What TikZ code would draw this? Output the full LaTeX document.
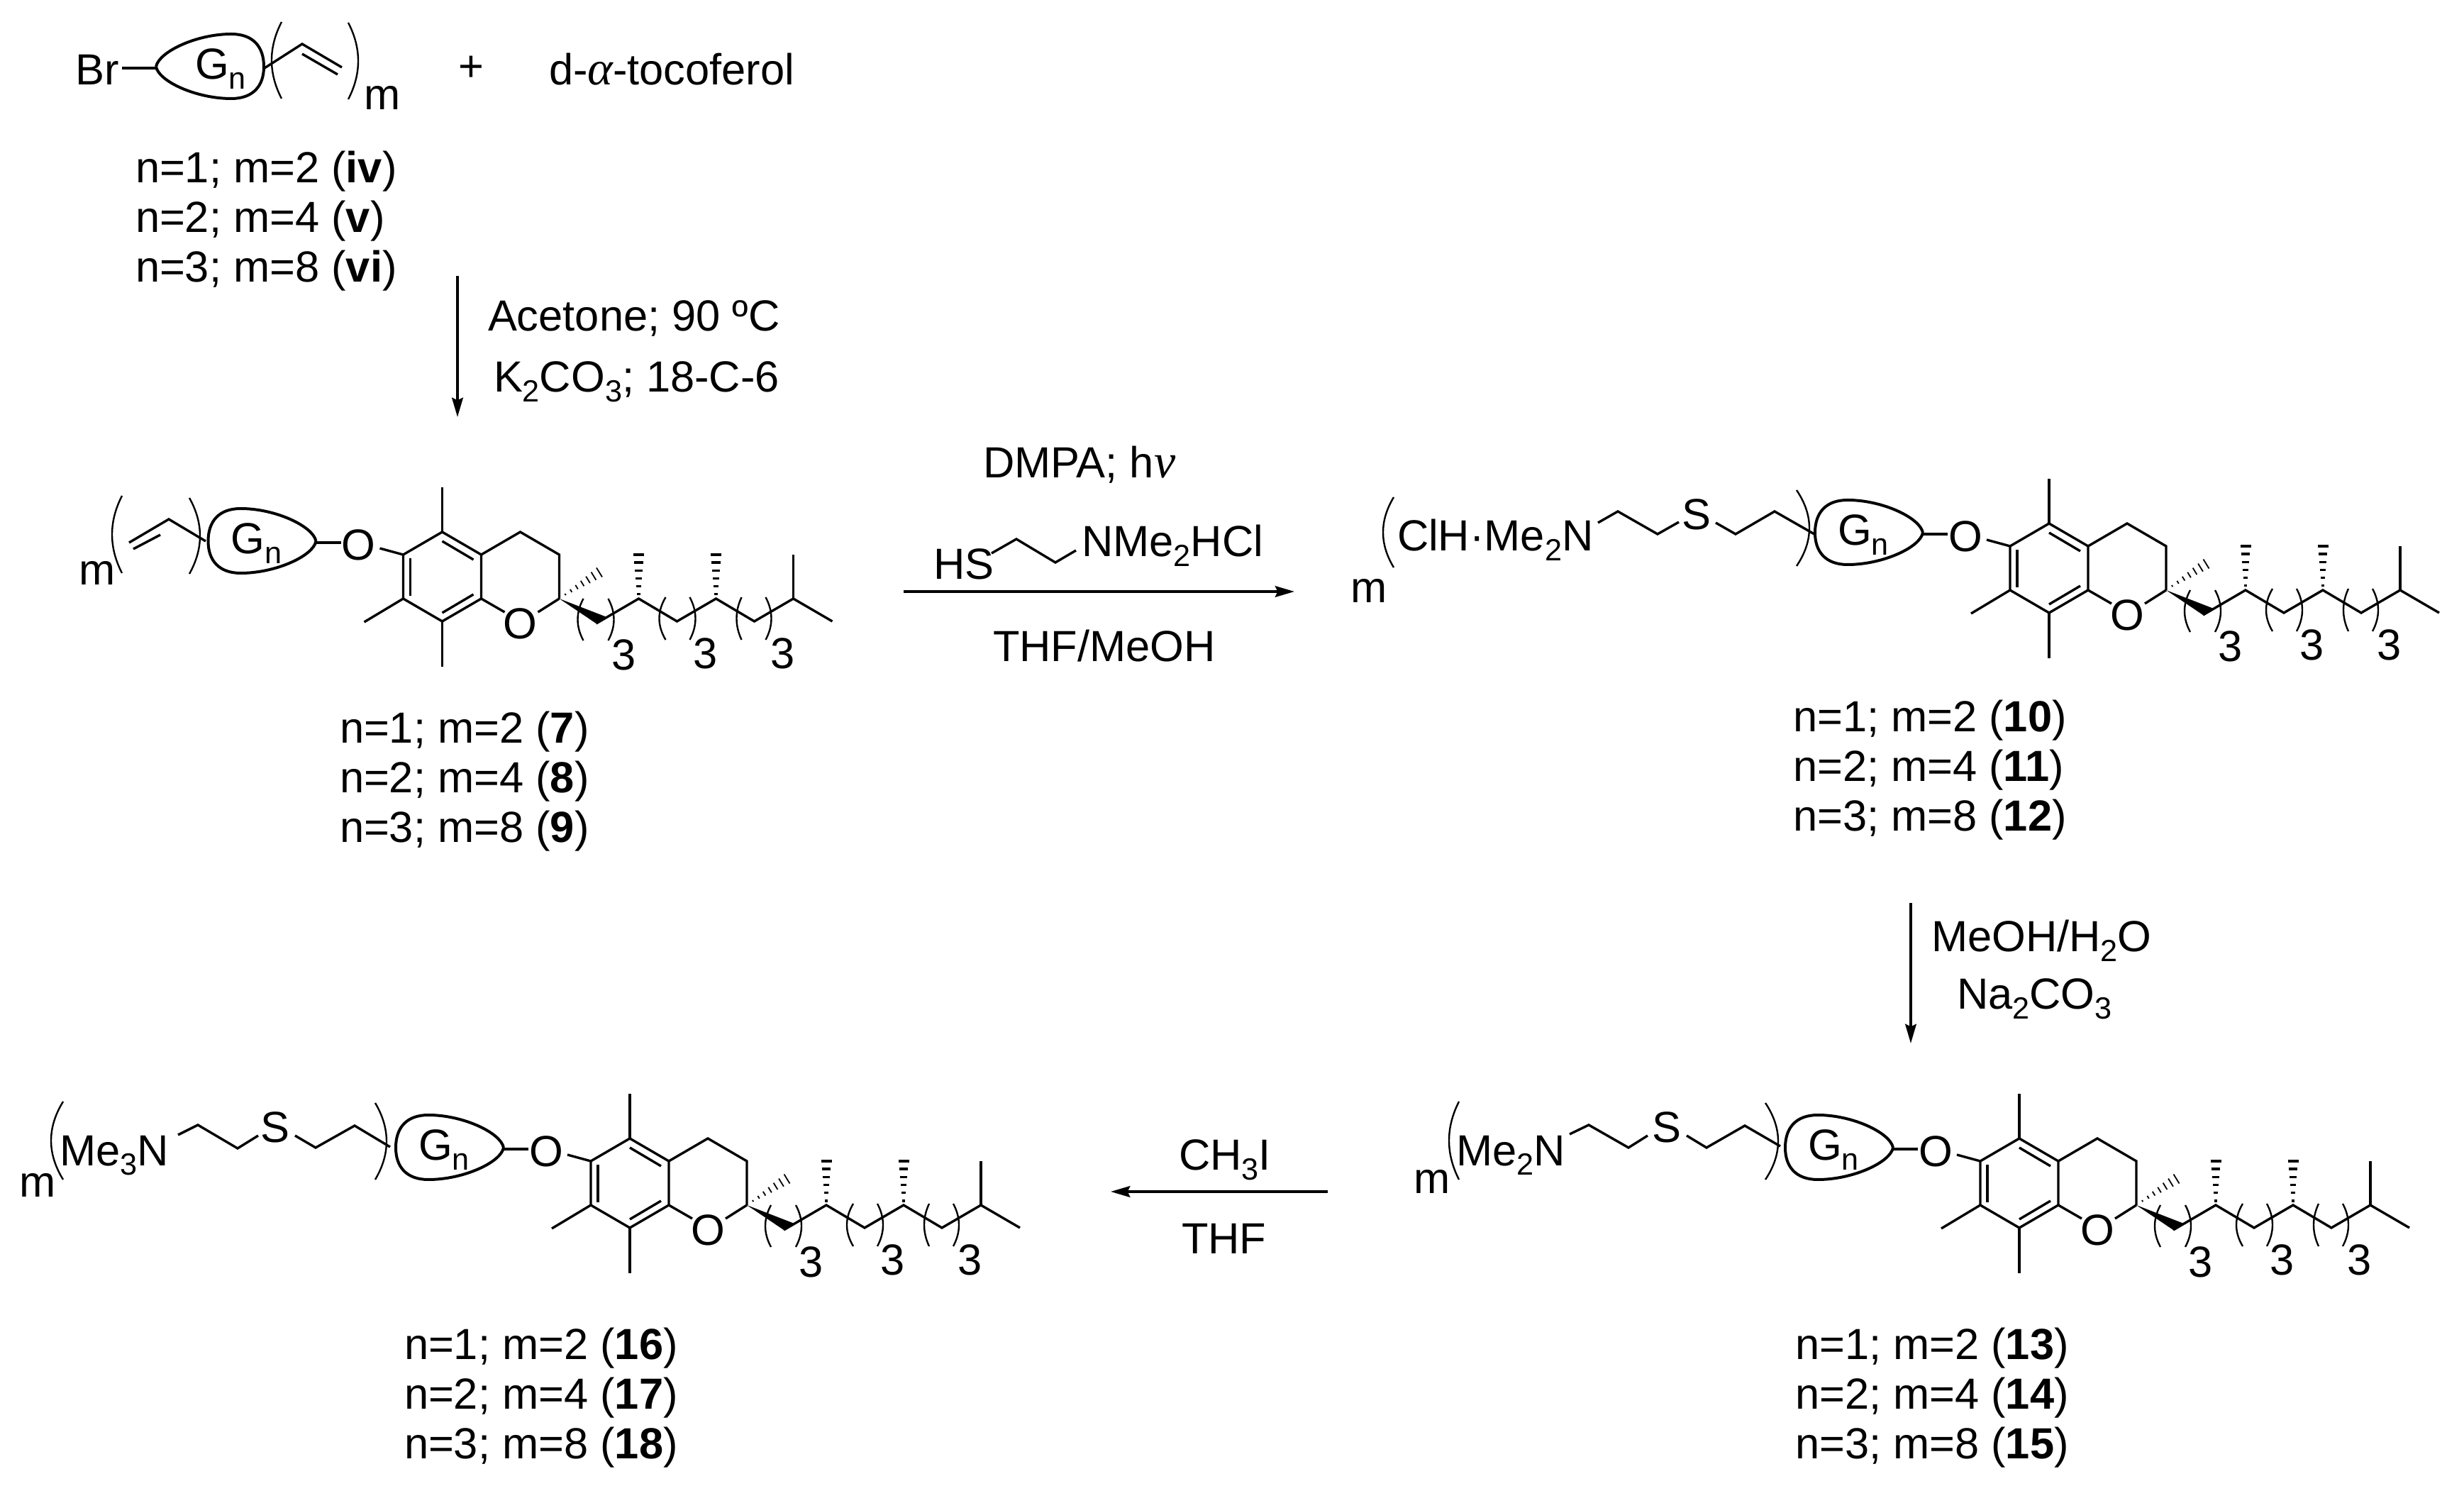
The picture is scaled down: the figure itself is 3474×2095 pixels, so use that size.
\documentclass[tikz,border=0pt]{standalone}
\usepackage{fontspec}
\setmainfont{Liberation Sans}
\newfontfamily\grk{Liberation Serif}
\usetikzlibrary{arrows.meta}
\newcommand\sbs[1]{\raisebox{-3.3pt}{\fontsize{10.8pt}{10.8pt}\selectfont #1}}
\newcommand\grl[1]{{\grk\itshape\fontsize{17pt}{17pt}\selectfont #1}}
\newcommand\brk[4]{%
  \pgfmathsetmacro\brkcx{#1+1.333*(#3-#1)}%
  \pgfmathsetmacro\brkya{#2+(#4-#2)/3}%
  \pgfmathsetmacro\brkyb{#2+2*(#4-#2)/3}%
  \draw[brkline] (#1,#2) .. controls (\brkcx,\brkya) and (\brkcx,\brkyb) .. (#1,#4);}
% the dendron blob, apex to the right
\newcommand\blobpath{(-178,13) .. controls (-182,-8) and (-235,-33) .. (-284,-33) .. controls (-315,-33) and (-330,-15) .. (-330,13) .. controls (-330,40) and (-315,58) .. (-284,58) .. controls (-235,58) and (-182,34) .. (-178,13)}
% the tocopherol unit, origin at the top aromatic carbon
\newcommand\toco[3]{%
\begin{scope}[shift={(#2,#3)}]
  \draw[bond] (0,0) -- (-55,32) -- (-55,94) -- (0,126) -- (55,94) -- (55,32) -- cycle;
  \draw[bond] (-45,37) -- (-45,90);
  \draw[bond] (0,13) -- (44,39);
  \draw[bond] (44,88) -- (0,114);
  \draw[bond] (55,32) -- (110,0) -- (165,32) -- (165,94);
  \draw[bond] (55,94) -- (88,113);
  \draw[bond] (135,113) -- (165,94);
  \draw[bond] (0,0) -- (0,-63);
  \draw[bond] (0,126) -- (0,190);
  \draw[bond] (-55,94) -- (-110,127);
  \draw[bond] (-88,23) -- (-55,32);
  \node (#1O1) at (-118,18) {O};
  \node (#1O2) at (110,129) {O};
  \draw[blob] \blobpath;
  \draw[blob] (-178,15) -- (-143,15);
  \node[lbl] (#1G) at (-298,31) {G\sbs{n}};
  \fill (165,94) -- (217,129) -- (232,120) -- cycle;
  \draw[bond] (217,129) -- (277,94) -- (331,126) -- (386,94) -- (440,126) -- (495,94) -- (550,126);
  \draw[bond] (495,94) -- (495,32);
  \foreach \t in {0.16,0.30,0.44,0.58,0.72,0.86,1} {
    \draw[line width=0.45pt] ({165+57*\t-4*\t-0.5},{94-37*\t-6.5*\t}) -- ({165+57*\t+4*\t-0.5},{94-37*\t+6.5*\t});
  }
  \foreach \xx in {277,386} {
    \foreach \t in {0.1,0.28,0.46,0.64,0.82,1} {
      \draw[line width=0.85pt] ({\xx-1.5-6*\t},{94-62*\t}) -- ({\xx+1.5+6*\t},{94-62*\t});
    }
  }
  \brk{199}{94}{191}{153}
  \brk{234}{94}{242}{153}
  \brk{315}{92}{306}{152}
  \brk{349}{92}{357}{152}
  \brk{422}{92}{415}{152}
  \brk{456}{92}{464}{152}
  \node[anchor=base] (#1r1) at (256,195) {3};
  \node[anchor=base] (#1r2) at (371,193) {3};
  \node[anchor=base] (#1r3) at (480,193) {3};
\end{scope}}
\newcommand\threelines[6]{%
  \node[lbl] (#1a) at (#2,#3) {n=1; m=2 (\textbf{#4})};
  \node[lbl] (#1b) at (#2,#3+70) {n=2; m=4 (\textbf{#5})};
  \node[lbl] (#1c) at (#2,#3+140) {n=3; m=8 (\textbf{#6})};}
\begin{document}
\begin{tikzpicture}[x=0.25pt,y=-0.25pt,
  every node/.style={inner sep=0pt,outer sep=0pt,font=\fontsize{15.35pt}{15.35pt}\selectfont},
  lbl/.style={anchor=base west},
  mid/.style={anchor=base},
  bond/.style={line width=0.85pt,line join=miter},
  blob/.style={line width=1pt},
  brkline/.style={line width=0.6pt},
  rxn/.style={line width=0.95pt,-{Stealth[length=6.8pt,width=3.9pt,inset=0.9pt]}}]
\useasboundingbox (0,0) rectangle (3474,2095);
% --- top row ---
\node[lbl] (br) at (107,120) {Br};
\draw[bond] (172,96) -- (220,96);
\draw[blob] (220,94) .. controls (224,73) and (277,48) .. (326,48) .. controls (357,48) and (372,66) .. (372,94) .. controls (372,121) and (357,139) .. (326,139) .. controls (277,139) and (224,115) .. (220,94);
\node[lbl] (gtop) at (275,112) {G\sbs{n}};
\draw[bond] (373,96) -- (426,62) -- (482,95);
\draw[bond] (426,76) -- (476,105);
\brk{397}{31}{383}{139}
\brk{491}{32}{505}{140}
\node[mid] (mtop) at (539,155) {m};
\node (plus) at (664,97) {+};
\node[lbl] (toc) at (774,120) {d-\grl{α}-tocoferol};
\threelines{t}{191}{258}{iv}{v}{vi}
% --- arrow 1 ---
\coordinate (a1s) at (645,389);
\coordinate (a1e) at (645,588);
\draw[rxn] (a1s) -- (a1e);
\node[lbl] (ac) at (688,467) {Acetone; 90 ºC};
\node[lbl] (kc) at (696,553) {K\sbs{2}CO\sbs{3}; 18-C-6};
% --- structure 7-9 ---
\toco{a}{623.5}{750}
\draw[bond] (290,763) -- (238,732) -- (182,765);
\draw[bond] (188,774) -- (226,754);
\brk{172}{699}{158}{808}
\brk{267}{702}{282}{809}
\node[mid] (ma) at (137,825) {m};
\threelines{l7}{479}{1048}{7}{8}{9}
% --- arrow 2 ---
\node[lbl] (dm) at (1386,674) {DMPA; h\grl{ν}};
\node[lbl] (hs) at (1316,817) {HS};
\node[lbl] (nm) at (1525,785) {NMe\sbs{2}HCl};
\draw[bond] (1398,780) -- (1433,760) -- (1488,793) -- (1517,776);
\coordinate (a2s) at (1274,834);
\coordinate (a2e) at (1825,834);
\draw[rxn] (a2s) -- (a2e);
\node[lbl] (tm) at (1400,933) {THF/MeOH};
% --- structure 10-12 ---
\toco{b}{2889}{738}
\node[mid] (mb) at (1930,850) {m};
\brk{1965}{701}{1950}{800}
\node[lbl] (cl) at (1970,777) {ClH·Me\sbs{2}N};
\draw[bond] (2253,737) -- (2281,721) -- (2337,753) -- (2367,736);
\node (sb) at (2392,725) {S};
\draw[bond] (2419,737) -- (2447,753) -- (2502,721) -- (2558,753);
\brk{2533}{691}{2551}{798}
\threelines{l10}{2528}{1032}{10}{11}{12}
% --- arrow 3 ---
\coordinate (a3s) at (2694,1273);
\coordinate (a3e) at (2694,1471);
\draw[rxn] (a3s) -- (a3e);
\node[lbl] (mo) at (2723,1342) {MeOH/H\sbs{2}O};
\node[lbl] (na) at (2759,1423) {Na\sbs{2}CO\sbs{3}};
% --- structure 13-15 ---
\toco{c}{2847}{1605}
\node[mid] (mc) at (2019,1683) {m};
\brk{2057}{1553}{2043}{1663}
\node[lbl] (me2) at (2053,1643) {Me\sbs{2}N};
\draw[bond] (2213,1599) -- (2240,1586) -- (2296,1618) -- (2323,1601);
\node (sc) at (2350,1589) {S};
\draw[bond] (2378,1601) -- (2406,1618) -- (2460,1587) -- (2510,1616);
\brk{2489}{1555}{2507}{1663}
\threelines{l13}{2531}{1916}{13}{14}{15}
% --- arrow 4 ---
\node[lbl] (ch) at (1662,1650) {CH\sbs{3}I};
\coordinate (a4s) at (1872,1680);
\coordinate (a4e) at (1566,1680);
\draw[rxn] (a4s) -- (a4e);
\node[lbl] (th) at (1666,1768) {THF};
% --- structure 16-18 ---
\toco{d}{888}{1605}
\node[mid] (md) at (53,1687) {m};
\brk{89}{1553}{72}{1663}
\node[lbl] (me3) at (84,1643) {Me\sbs{3}N};
\draw[bond] (251,1600) -- (279,1586) -- (335,1619) -- (364,1601);
\node (sd) at (388,1589) {S};
\draw[bond] (416,1601) -- (445,1618) -- (500,1587) -- (550,1617);
\brk{529}{1555}{545}{1663}
\threelines{l16}{570}{1916}{16}{17}{18}
\end{tikzpicture}
\end{document}
